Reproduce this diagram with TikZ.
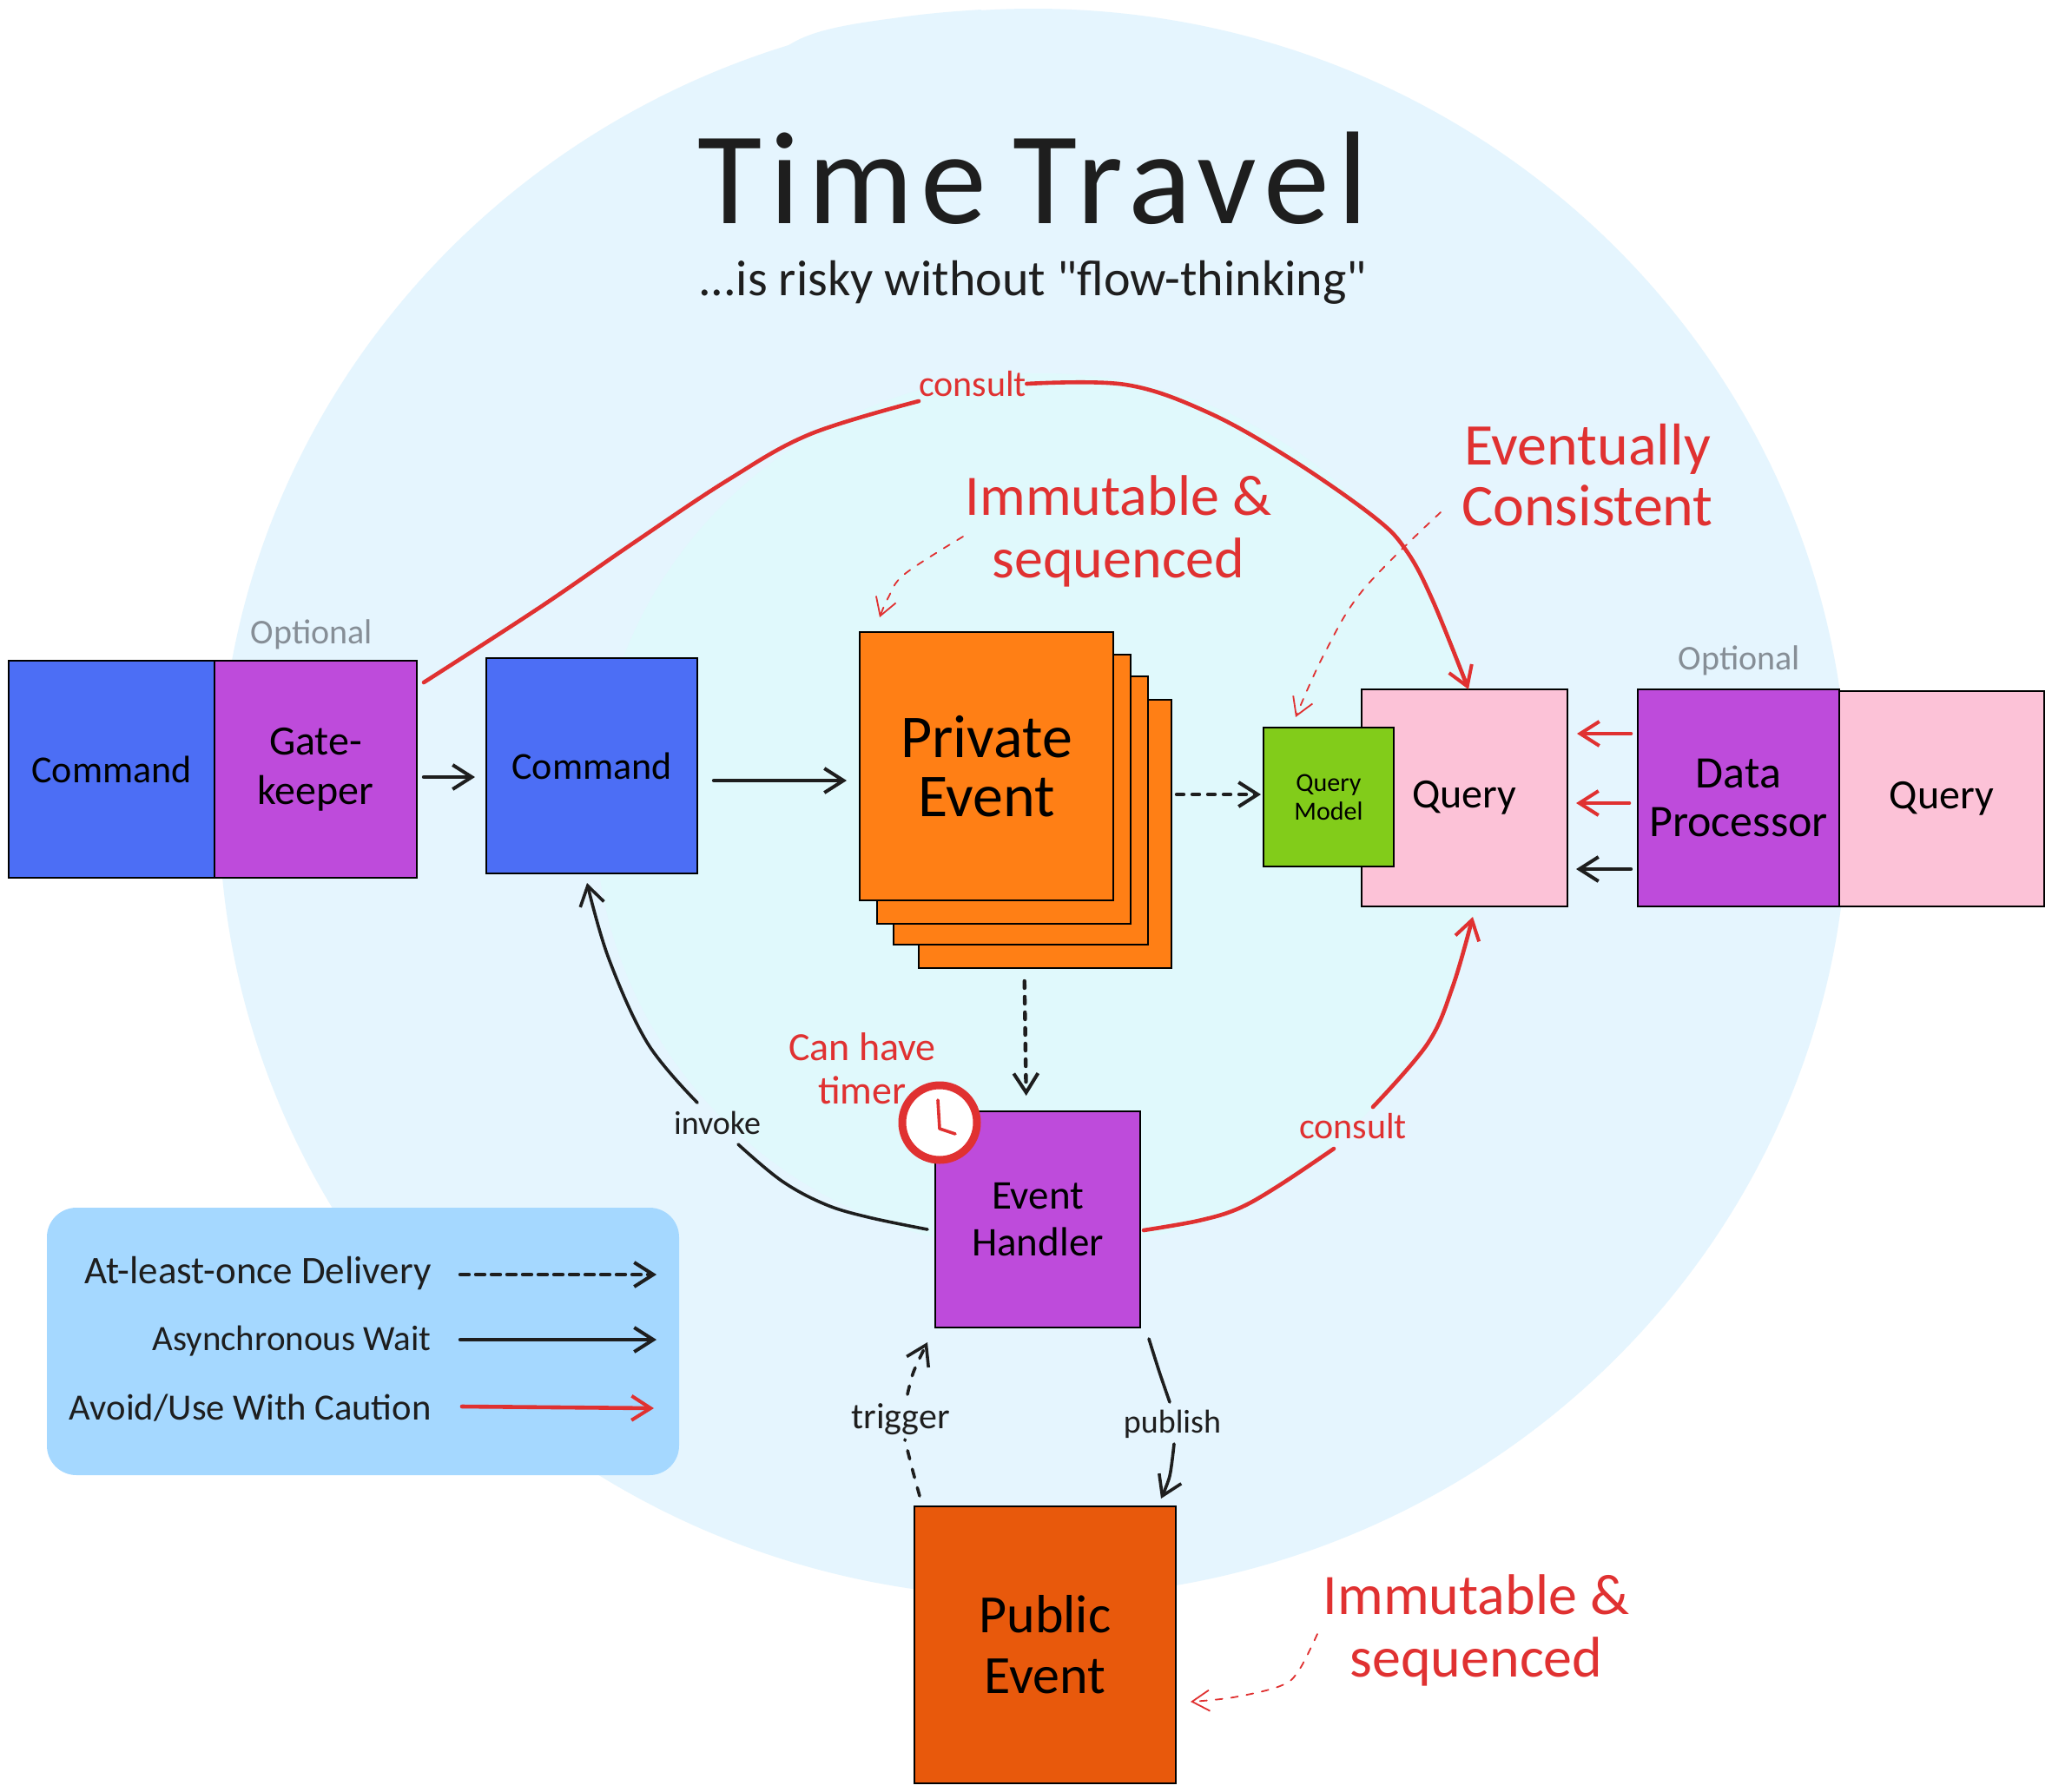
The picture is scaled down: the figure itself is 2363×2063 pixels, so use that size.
\documentclass[tikz,border=0pt]{standalone}
\usepackage{fontspec}
\setmainfont{Carlito}
\newfontfamily\plainq{Carlito}
\usetikzlibrary{arrows.meta,calc}
\definecolor{ink}{HTML}{1E1E1E}
\definecolor{redx}{HTML}{E03131}
\definecolor{outerbg}{HTML}{E5F5FE}
\definecolor{innerbg}{HTML}{E0F9FC}
\definecolor{bluebox}{HTML}{4C6EF5}
\definecolor{purplebox}{HTML}{BE4BDB}
\definecolor{pinkbox}{HTML}{FCC2D7}
\definecolor{greenbox}{HTML}{82CC1A}
\definecolor{orangebox}{HTML}{FF7F15}
\definecolor{pubbox}{HTML}{E8590C}
\definecolor{legendbg}{HTML}{A5D8FF}
\definecolor{greytxt}{HTML}{868E96}
\newcommand{\fs}[2]{\fontsize{#1}{#2}\selectfont}
\tikzset{
  card/.style={draw=black,line width=1.1pt,inner sep=0pt,outer sep=0pt,align=center,text=black},
  sz/.style 2 args={minimum width=#1pt,minimum height=#2pt},
  barb/.style={-{Straight Barb[length=11pt,width=14pt,line width=#1]}},
  blk/.style={barb=2pt,draw=ink,line width=2.2pt,line cap=round},
  blkthin/.style={barb=1.8pt,draw=ink,line width=1.8pt,line cap=round},
  blkdash/.style={blk,dash pattern=on 4pt off 5pt},
  redarr/.style={barb=2pt,draw=redx,line width=2.3pt,line cap=round},
  redline/.style={draw=redx,line width=2.3pt,line cap=round},
  inkline/.style={draw=ink,line width=1.8pt,line cap=round},
  thinred/.style={-{Straight Barb[length=10pt,width=12pt,line width=.9pt]},draw=redx,line width=.9pt,line cap=round,dash pattern=on 4pt off 5pt},
  redtxt/.style={text=redx,inner sep=0pt,align=center},
  lbl/.style={text=ink,inner sep=0pt,align=center},
}
\begin{document}
\begin{tikzpicture}[x=0.5pt,y=-0.5pt]
\useasboundingbox (0,0) rectangle (2363,2063);
\fill[white] (0,0) rectangle (2363,2063);
% backdrop blobs
\fill[outerbg] (1190,925) ellipse [x radius=938, y radius=915];
\fill[outerbg] (900,58) .. controls (925,38) and (960,30) .. (1029,21) .. controls (1070,15) and (1100,13) .. (1130,11) -- (1130,80) -- (900,80) -- cycle;
\fill[innerbg] (1200,935) ellipse [x radius=515, y radius=505];
% title
\node[lbl,font=\fs{76}{76}\addfontfeature{LetterSpace=6}] (title) at (1189,205) {Time\hspace{.2em}Travel};
\node[lbl,font=\plainq\fs{29}{29}] (subtitle) at (1189,325) {...is risky without "flow-thinking"};
% boxes
\node[card,fill=bluebox,sz={118.5}{125},font=\fs{22}{22}] (cmdA) at (128.5,886) {Command};
\node[card,fill=purplebox,sz={116.5}{125},font=\fs{24}{28.5}] (gate) at (363.5,886) {Gate-\\keeper};
\node[card,fill=bluebox,sz={121.5}{124},font=\fs{22}{22}] (cmdB) at (681.5,882) {Command};
\node[card,fill=orangebox,sz={145.5}{154.5}] (pD) at (1203.5,960.5) {};
\node[card,fill=orangebox,sz={146.5}{154.5}] (pC) at (1175.5,933.5) {};
\node[card,fill=orangebox,sz={146}{155}] (pB) at (1156,909) {};
\node[card,fill=orangebox,sz={146}{154.5},font=\fs{35}{34}] (pA) at (1136,882.5) {Private\\Event};
\node[card,fill=pinkbox,sz={118.5}{125},font=\fs{24}{24}] (qry) at (1686.5,919) {Query};
\node[card,fill=greenbox,sz={75}{80},font=\fs{15}{16.5}] (qm) at (1530,918) {Query\\Model};
\node[card,fill=purplebox,sz={116}{125},font=\fs{26}{28}] (dp) at (2002,919) {Data\\Processor};
\node[card,fill=pinkbox,sz={118}{124},font=\fs{24}{24}] (qryB) at (2236,920) {Query};
\node[card,fill=purplebox,sz={118}{124.5},font=\fs{23.5}{27}] (eh) at (1195,1404.5) {Event\\Handler};
\node[card,fill=pubbox,sz={150.5}{159.5},font=\fs{31}{35}] (pub) at (1203.5,1894.5) {Public\\Event};
% clock
\node[circle,draw=redx,fill=white,line width=4.5pt,minimum size=43pt,inner sep=0pt] (clock) at (1082,1293) {};
\draw[redx,line width=1.8pt,line cap=round,line join=round] (1080,1267) -- (1082,1300) -- (1100,1306);
% free labels
\node[text=greytxt,inner sep=0pt,font=\fs{20}{20}] (optA) at (359,731) {Optional};
\node[text=greytxt,inner sep=0pt,font=\fs{20}{20}] (optB) at (2003,761) {Optional};
\node[redtxt,font=\fs{33}{36}] (immA) at (1288,612) {Immutable \&\\sequenced};
\node[redtxt,font=\fs{34}{35}] (evt) at (1828,547) {Eventually\\Consistent};
\node[redtxt,font=\fs{33}{36}] (immB) at (1700,1878) {Immutable \&\\sequenced};
\node[redtxt,font=\fs{23}{25}] (timer) at (993,1231) {Can have\\timer};
\node[redtxt,font=\fs{21}{21}] (conA) at (1120,442) {consult};
\node[redtxt,font=\fs{21}{21}] (conB) at (1558,1297) {consult};
\node[lbl,font=\fs{19}{19}] (invoke) at (826,1293) {invoke};
\node[lbl,font=\fs{21}{21}] (trigger) at (1037,1635) {trigger};
\node[lbl,font=\fs{19}{19}] (publish) at (1350,1640) {publish};
% straight connectors
\draw[blk,shorten <=4pt,shorten >=6.5pt] ([yshift=-4.5pt]gate.east) -- ([yshift=-6.5pt]cmdB.west);
\draw[blk,shorten <=9.5pt,shorten >=7.5pt] ([yshift=-8.5pt]cmdB.east) -- ([yshift=-8.25pt]pA.west);
\draw[blkdash,shorten <=3pt,shorten >=1.5pt] ([yshift=22.75pt]pD.east) -- ([yshift=1.5pt]qm.west);
\draw[blkdash,shorten <=7.5pt,shorten >=9pt] ([xshift=-12pt]pD.south) -- ([xshift=-6.5pt]eh.north);
\draw[redarr,shorten <=4pt,shorten >=5.5pt] ([yshift=37pt]dp.west) -- ([yshift=37pt]qry.east);
\draw[redarr,shorten <=5pt,shorten >=5pt] ([yshift=-3pt]dp.west) -- ([yshift=-3pt]qry.east);
\draw[blk,shorten <=4pt,shorten >=5pt] ([yshift=-41pt]dp.west) -- ([yshift=-41pt]qry.east);
% curved connectors
\draw[redline] plot[smooth,tension=.6] coordinates {(488,786)(621,700)(730,625)(838,553)(933,500)(1058,462)};
\draw[redarr] plot[smooth,tension=.6] coordinates {(conA.east)(1296,443)(1391,475)(1487,529)(1583,596)(1620,635)(1650,692)(1691,794)};
\draw[redline] plot[smooth,tension=.6] coordinates {(1317,1417)(1380,1406)(1426,1392)(1472,1366)(1536,1323)};
\draw[redarr] plot[smooth,tension=.6] coordinates {(1581,1275)(1644,1202)(1673,1136)(1696,1056)};
\draw[inkline] plot[smooth,tension=.6] coordinates {(1068,1416)(1000,1402)(950,1387)(900,1360)(850,1318)};
\draw[blkthin] plot[smooth,tension=.6] coordinates {(803,1270)(746,1202)(701,1104)(676,1017)};
\draw[blkthin,dash pattern=on 5pt off 6pt] plot[smooth] coordinates {(1045,1606)(1052,1580)(1068,1546)};
\draw[inkline,dash pattern=on 5pt off 6pt] plot[smooth] coordinates {(1059,1723)(1050,1690)(1042,1658)};
\draw[inkline] plot[smooth] coordinates {(1323,1542)(1335,1580)(1347,1615)};
\draw[blkthin] plot[smooth] coordinates {(1352,1663)(1347,1700)(1337,1726)};
% annotation arrows
\draw[thinred] plot[smooth,tension=.6] coordinates {(1109,618)(1042,661)(1023,688)(1013,711)};
\draw[thinred] plot[smooth,tension=.6] coordinates {(1659,590)(1570,679)(1525,753)(1492,826)};
\draw[thinred] plot[smooth,tension=.6] coordinates {(1517,1882)(1495,1925)(1474,1942)(1420,1955)(1371,1960)};
% legend
\node[fill=legendbg,rounded corners=17pt,sz={364}{154},inner sep=0pt] (legend) at (418,1545) {};
\node[lbl,anchor=east,font=\fs{22.5}{22.5}] (legA) at (497,1466) {At-least-once Delivery};
\node[lbl,anchor=east,font=\fs{20.5}{20.5}] (legB) at (497,1545) {Asynchronous Wait};
\node[lbl,anchor=east,font=\fs{21.3}{21.3}] (legC) at (497,1622) {Avoid/Use With Caution};
\coordinate (legAe) at (756,1468);
\coordinate (legBe) at (756,1543);
\coordinate (legCe) at (753,1622);
\draw[blk,dash pattern=on 5pt off 4pt] (530,1468) -- (legAe);
\draw[blk] (530,1543) -- (legBe);
\draw[redarr] (532,1620) -- (legCe);
\end{tikzpicture}
\end{document}
